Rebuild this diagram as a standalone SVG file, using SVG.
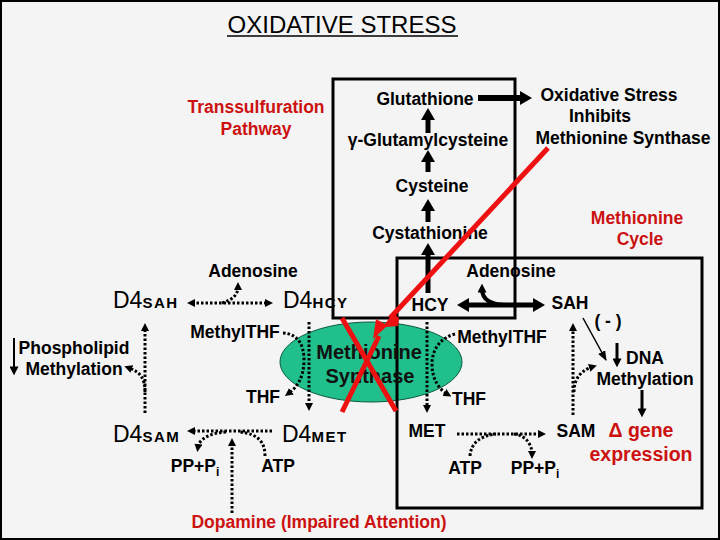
<svg xmlns="http://www.w3.org/2000/svg" width="720" height="540" viewBox="0 0 720 540">
<style>
text{font-family:"Liberation Sans",Arial,sans-serif;font-weight:bold;font-size:17.5px;text-anchor:middle;fill:#000}
.red{fill:#cc1111}
.big{font-size:19.5px}
.st{text-anchor:start}
.d4{font-weight:normal;font-size:23px}
.sb{font-size:15px;letter-spacing:1.5px}
.title{font-weight:normal;font-size:24px}
.box{fill:none;stroke:#000;stroke-width:3}
.sol{fill:none;stroke:#000}
.dot{fill:none;stroke:#000;stroke-width:3;stroke-dasharray:2.5 2}
.rl{fill:none;stroke:#ee1111;stroke-width:5}
</style>
<defs>
<marker id="big" viewBox="0 0 12 14" refX="4" refY="7" markerWidth="12" markerHeight="14" markerUnits="userSpaceOnUse" orient="auto-start-reverse"><path d="M0,0 L12,7 L0,14 z"/></marker>
<marker id="med" viewBox="0 0 10 10" refX="4" refY="5" markerWidth="9" markerHeight="9" markerUnits="userSpaceOnUse" orient="auto-start-reverse"><path d="M0,0 L10,5 L0,10 z"/></marker>
<marker id="dh" viewBox="0 0 8 8" refX="3" refY="4" markerWidth="8" markerHeight="8" markerUnits="userSpaceOnUse" orient="auto-start-reverse"><path d="M0,0 L8,4 L0,8 z"/></marker>
<marker id="th" viewBox="0 0 10 8" refX="9" refY="4" markerWidth="10" markerHeight="8" markerUnits="userSpaceOnUse" orient="auto"><path d="M0,0 L10,4 L0,8 z"/></marker>
</defs>
<rect x="1" y="1" width="718" height="538" fill="#f4f4f4" stroke="#000" stroke-width="2"/>

<g id="title">
<text x="342" y="33" class="title">OXIDATIVE STRESS</text>
<line x1="227" y1="36" x2="458" y2="36" stroke="#000" stroke-width="1.5"/>
</g>

<g id="synthase">
<ellipse cx="371" cy="362" rx="91" ry="40" fill="#20bf8c" stroke="#0a5a40" stroke-width="1"/>
</g>

<g id="boxes">
<rect id="transsulfuration-box" class="box" x="333" y="79" width="182" height="239"/>
<rect id="methionine-box" class="box" x="397" y="258" width="305" height="250"/>
</g>

<g id="synthase-label">
<text x="369" y="359" style="font-size:20px;fill:#111">Methionine</text>
<text x="370" y="383" style="font-size:20px;fill:#111">Synthase</text>
</g>

<g id="labels-top">
<text class="red" x="256" y="113">Transsulfuration</text>
<text class="red" x="256" y="135">Pathway</text>
<g id="glutathione"><text x="425" y="105">Glutathione</text></g>
<g id="gglu"><text x="428" y="146">γ-Glutamylcysteine</text></g>
<g id="cysteine"><text x="432" y="192">Cysteine</text></g>
<g id="cystathionine"><text x="430" y="239">Cystathionine</text></g>
<g id="ox"><text x="609" y="101">Oxidative Stress</text>
<text x="600" y="122">Inhibits</text>
<text x="623" y="144">Methionine Synthase</text></g>
<g id="metcycle"><text class="red" x="637" y="224">Methionine</text>
<text class="red" x="640" y="245">Cycle</text></g>
</g>

<g id="left-nodes">
<g id="adenosine-l"><text x="253" y="277">Adenosine</text></g>
<g id="d4sah"><text class="st" x="113" y="308"><tspan class="d4">D4</tspan><tspan class="sb">SAH</tspan></text></g>
<g id="d4hcy"><text class="st" x="283" y="308"><tspan class="d4">D4</tspan><tspan class="sb">HCY</tspan></text></g>
<g id="methylthf-l"><text x="235" y="338">MethylTHF</text></g>
<g id="phospho"><text x="74" y="354">Phospholipid</text>
<text x="74" y="375">Methylation</text></g>
<g id="thf-l"><text x="263" y="403">THF</text></g>
<g id="d4sam"><text class="st" x="113" y="442"><tspan class="d4">D4</tspan><tspan class="sb">SAM</tspan></text></g>
<g id="d4met"><text class="st" x="282" y="442"><tspan class="d4">D4</tspan><tspan class="sb">MET</tspan></text></g>
<g id="pp-l"><text x="195" y="472">PP+P<tspan style="font-size:12px" dy="4">i</tspan></text></g>
<g id="atp-l"><text x="278" y="472">ATP</text></g>
<g id="dopamine"><text class="red" x="319" y="528">Dopamine (Impaired Attention)</text></g>
</g>

<g id="right-nodes">
<g id="adenosine-r"><text x="511" y="277">Adenosine</text></g>
<g id="hcy"><text x="430" y="311">HCY</text></g>
<g id="sah"><text x="570" y="309">SAH</text></g>
<g id="methylthf-r"><text x="502" y="343">MethylTHF</text></g>
<g id="minus"><text x="608" y="327">( - )</text></g>
<g id="dna"><text x="645" y="364">DNA</text>
<text x="645" y="385">Methylation</text></g>
<g id="thf-r"><text x="469" y="405">THF</text></g>
<g id="met"><text x="427" y="437">MET</text></g>
<g id="sam"><text x="576" y="437">SAM</text></g>
<g id="gene"><text class="red big" x="641" y="437">Δ gene</text>
<text class="red big" x="641" y="461">expression</text></g>
<g id="atp-r"><text x="465" y="474">ATP</text></g>
<g id="pp-r"><text x="535" y="474">PP+P<tspan style="font-size:12px" dy="4">i</tspan></text></g>
</g>

<g id="connectors">
<path class="sol" stroke-width="6" d="M478,98 L524,98" marker-end="url(#big)"/>
<path class="sol" stroke-width="5" d="M428,133 L428,116" marker-end="url(#big)"/>
<path class="sol" stroke-width="5" d="M428,172 L428,158" marker-end="url(#big)"/>
<path class="sol" stroke-width="5" d="M428,222 L428,207" marker-end="url(#big)"/>
<path class="sol" stroke-width="5" d="M428,293 L428,251" marker-end="url(#big)"/>
<path class="sol" stroke-width="5" d="M465,305 L537,305" marker-start="url(#big)" marker-end="url(#big)"/>
<path class="sol" stroke-width="4" d="M508,305 C492,305 482,300 482,289" marker-end="url(#med)"/>
<path class="sol" stroke-width="1.5" d="M583,318 L606,360" marker-end="url(#th)"/>
<path class="sol" stroke-width="3" d="M617,343 L617,362" marker-end="url(#med)"/>
<path class="sol" stroke-width="3" d="M642,390 L642,412" marker-end="url(#med)"/>
<path class="sol" stroke-width="2" d="M14,338 L14,370" marker-end="url(#med)"/>

<path class="dot" d="M192,303 L268,303" marker-start="url(#dh)" marker-end="url(#dh)"/>
<path class="dot" d="M222,303 C232,300 238,295 238,287" marker-end="url(#dh)"/>
<path class="dot" d="M283,333 C298,334 304,345 304,360 C304,378 296,388 289,393" marker-end="url(#dh)"/>
<path class="dot" d="M309,322 L309,406" marker-end="url(#dh)"/>
<path class="dot" d="M427,322 L427,408" marker-end="url(#dh)"/>
<path class="dot" d="M455,334 C440,338 432,350 432,364 C432,380 440,390 447,394" marker-end="url(#dh)"/>
<path class="dot" d="M272,431 L192,431" marker-end="url(#dh)"/>
<path class="dot" d="M265,456 C265,442 258,434 240,432"/>
<path class="dot" d="M226,432 C208,433 199,440 198,447" marker-end="url(#dh)"/>
<path class="dot" d="M232,513 L232,443" marker-end="url(#dh)"/>
<path class="dot" d="M145,413 L145,328" marker-end="url(#dh)"/>
<path class="dot" d="M145,392 C145,378 140,372 129,368" marker-end="url(#dh)"/>
<path class="dot" d="M457,434 L541,434" marker-end="url(#dh)"/>
<path class="dot" d="M470,456 C471,443 480,436 496,434"/>
<path class="dot" d="M514,434 C525,435 532,444 532,454" marker-end="url(#dh)"/>
<path class="dot" d="M573,415 L573,328" marker-end="url(#dh)"/>
<path class="dot" d="M574,392 C574,378 582,370 592,367" marker-end="url(#dh)"/>
</g>

<g id="inhibition">
<path class="rl" stroke-width="6" d="M548,148 L390,318"/>
<polygon fill="#ee1111" points="373,339 376,319 385,324 393,313 399,318 398,326 386,327"/>
<path class="rl" stroke-width="4" d="M342,318 L396,411"/>
<path class="rl" stroke-width="4" d="M342,412 L379,336"/>
</g>
</svg>
